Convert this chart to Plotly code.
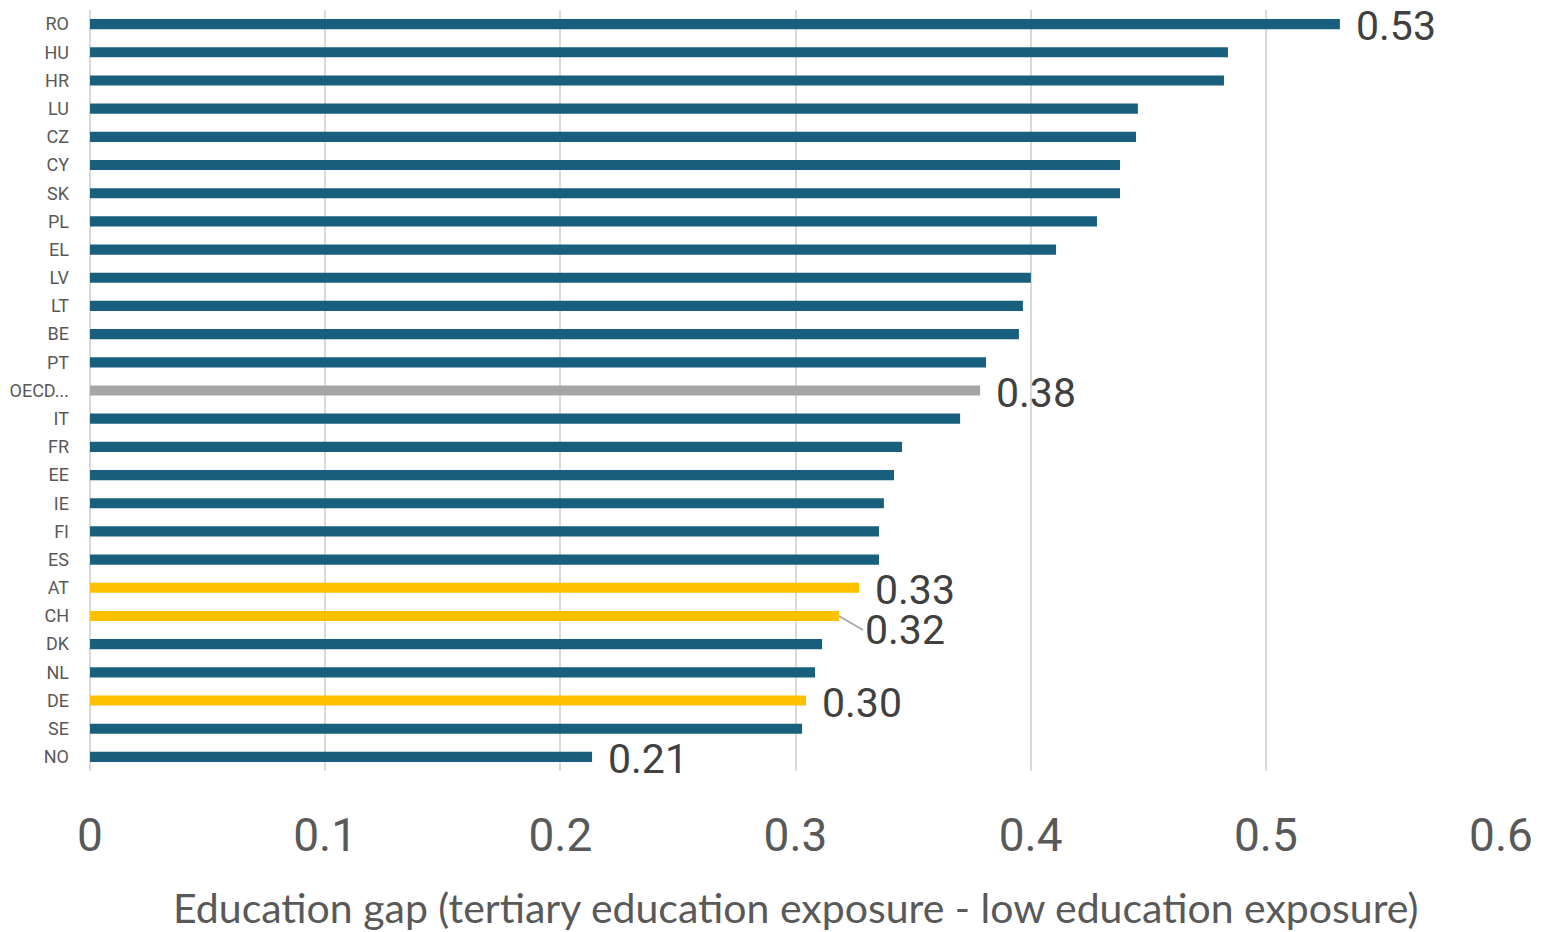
import plotly.graph_objects as go

countries = ["RO", "HU", "HR", "LU", "CZ", "CY", "SK", "PL", "EL", "LV", "LT", "BE", "PT",
             "OECD...", "IT", "FR", "EE", "IE", "FI", "ES", "AT", "CH", "DK", "NL", "DE", "SE", "NO"]
values = [0.5315, 0.4839, 0.4822, 0.4456, 0.4448, 0.4380, 0.4380, 0.4282, 0.4108, 0.4001,
          0.3967, 0.3950, 0.3810, 0.3785, 0.3700, 0.3453, 0.3419, 0.3376, 0.3355, 0.3355,
          0.3270, 0.3185, 0.3113, 0.3083, 0.3045, 0.3028, 0.2135]
labelled = ["RO", "OECD...", "AT", "CH", "DE", "NO"]
highlight = ["AT", "CH", "DE"]
x_ticks = [0, 0.1, 0.2, 0.3, 0.4, 0.5, 0.6]
x_title = "Education gap (tertiary education exposure - low education exposure)"

BLUE = "#185F7E"
GOLD = "#FFC000"
GREY = "#A5A5A5"

colors = []
for c in countries:
    if c in highlight:
        colors.append(GOLD)
    elif c.startswith("OECD"):
        colors.append(GREY)
    else:
        colors.append(BLUE)

fig = go.Figure(go.Bar(
    x=values, y=countries, orientation="h",
    marker=dict(color=colors, line=dict(width=0)),
    width=0.36,
))

NUMFONT = "Roboto"
for c, v in zip(countries, values):
    if c not in labelled:
        continue
    if c == "CH":
        fig.add_annotation(x=v, y=c, xref="x", yref="y", text=f"{v:.2f}",
                           showarrow=True, arrowhead=0, arrowcolor="#A5A5A5", arrowwidth=1.5,
                           ax=24, ay=14, xanchor="left", yanchor="middle",
                           font=dict(size=41, color="#404040", family=NUMFONT))
    else:
        fig.add_annotation(x=v, y=c, xref="x", yref="y", text=f"{v:.2f}",
                           showarrow=False, xanchor="left", yanchor="middle",
                           xshift=14, yshift=-2,
                           font=dict(size=41, color="#404040", family=NUMFONT))

fig.add_annotation(x=0.5, y=-0.18, xref="paper", yref="paper", text=x_title,
                   showarrow=False, xanchor="center", yanchor="middle",
                   font=dict(size=41, color="#595959", family="Lato"))

fig.update_layout(
    width=1541, height=932,
    margin=dict(l=90, r=40, t=10, b=161, autoexpand=False),
    paper_bgcolor="white", plot_bgcolor="white",
    showlegend=False,
)
fig.update_xaxes(
    range=[0, 0.6], tickvals=x_ticks, ticktext=[str(t) for t in x_ticks],
    showgrid=True, gridcolor="#D9D9D9", gridwidth=2,
    zeroline=True, zerolinecolor="#D9D9D9", zerolinewidth=2,
    showline=False, ticks="", automargin=False,
    tickfont=dict(size=46, color="#595959", family=NUMFONT),
    ticklabelstandoff=33,
)
fig.update_yaxes(
    range=[26.5, -0.5], type="category", automargin=False,
    tickfont=dict(size=18, color="#595959", family="Roboto"),
    ticks="", showgrid=False, ticklabelstandoff=20,
)

fig.write_html("out.html",
               config={"displayModeBar": False},
               post_script="document.body.style.margin='0';document.body.style.overflow='hidden';")
